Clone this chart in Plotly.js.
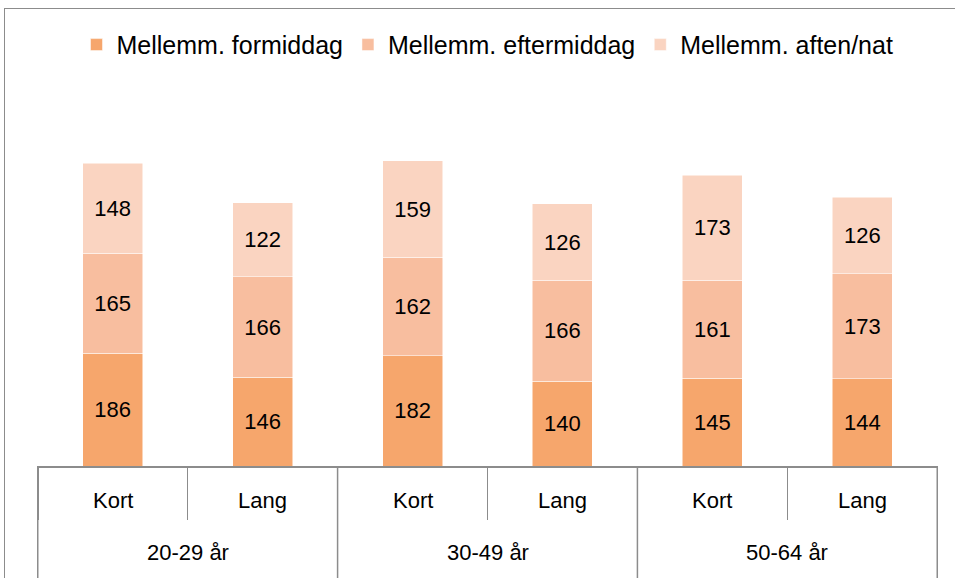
<!DOCTYPE html>
<html><head><meta charset="utf-8">
<script src="https://cdn.plot.ly/plotly-3.0.1.min.js"></script>
<style>
html,body{margin:0;padding:0;background:#fff;}
#frame{position:absolute;left:4px;top:8px;width:1000px;height:620px;border:1.5px solid #8c8c8c;}
#chart{position:absolute;left:0;top:0;width:955px;height:578px;}
</style></head>
<body><div id="frame"></div><div id="chart"></div>
<script>
const groups = ["20-29 år","20-29 år","30-49 år","30-49 år","50-64 år","50-64 år"];
const subcats = ["Kort","Lang","Kort","Lang","Kort","Lang"];
const groupLabels = ["20-29 år","30-49 år","50-64 år"];
const formiddag = [186,146,182,140,145,144];
const eftermiddag = [165,166,162,166,161,173];
const aften = [148,122,159,126,173,126];
const seriesNames = ["Mellemm. formiddag","Mellemm. eftermiddag","Mellemm. aften/nat"];
const colors = ["#F6A66C","#F8BE9F","#FAD4C1"];
const vals = [formiddag, eftermiddag, aften];
const font = "Liberation Sans, Arial, sans-serif";
const lineColor = "#8c8c8c";
const traces = vals.map((v,i)=>({
  type:"bar", x:[groups, subcats], y:v, name:seriesNames[i],
  marker:{color:colors[i], line:{color:"#ffffff", width:0.5}},
  text:v.map(String), textposition:"inside", insidetextanchor:"middle",
  textfont:{family:font, size:22, color:"#000"}, hoverinfo:"none"
}));
const annotations = [];
subcats.forEach((s,i)=>annotations.push({x:i, xref:"x", y:-0.094, yref:"paper", yanchor:"middle",
  text:s, showarrow:false, font:{family:font, size:22, color:"#000"}}));
groupLabels.forEach((g,j)=>annotations.push({x:2*j+0.5, xref:"x", y:-0.239, yref:"paper", yanchor:"middle",
  text:g, showarrow:false, font:{family:font, size:22, color:"#000"}}));
const shapes = [];
for (let j=0;j<=groupLabels.length;j++){
  shapes.push({type:"line", xref:"x", yref:"paper", x0:2*j-0.5, x1:2*j-0.5, y0:0, y1:-0.32,
    line:{color:lineColor, width:1.5}});
}
const layout = {
  width:955, height:578, barmode:"stack", bargap:0.6,
  paper_bgcolor:"rgba(0,0,0,0)", plot_bgcolor:"rgba(0,0,0,0)",
  margin:{l:37, r:17, t:102, b:112, autoexpand:false},
  showlegend:true,
  legend:{orientation:"h", x:0.5, xanchor:"center", y:1.157, yanchor:"middle",
          font:{family:font, size:25, color:"#000"}, traceorder:"normal"},
  xaxis:{type:"multicategory", showline:true, linecolor:lineColor, linewidth:2,
         ticks:"outside", tickson:"boundaries", ticklen:52, tickcolor:lineColor, tickwidth:1.5,
         showdividers:false, showticklabels:false, showgrid:false},
  yaxis:{range:[0,600], visible:false, showgrid:false, zeroline:false},
  annotations:annotations, shapes:shapes
};
Plotly.newPlot("chart", traces, layout, {displayModeBar:false, staticPlot:true});
</script></body></html>
